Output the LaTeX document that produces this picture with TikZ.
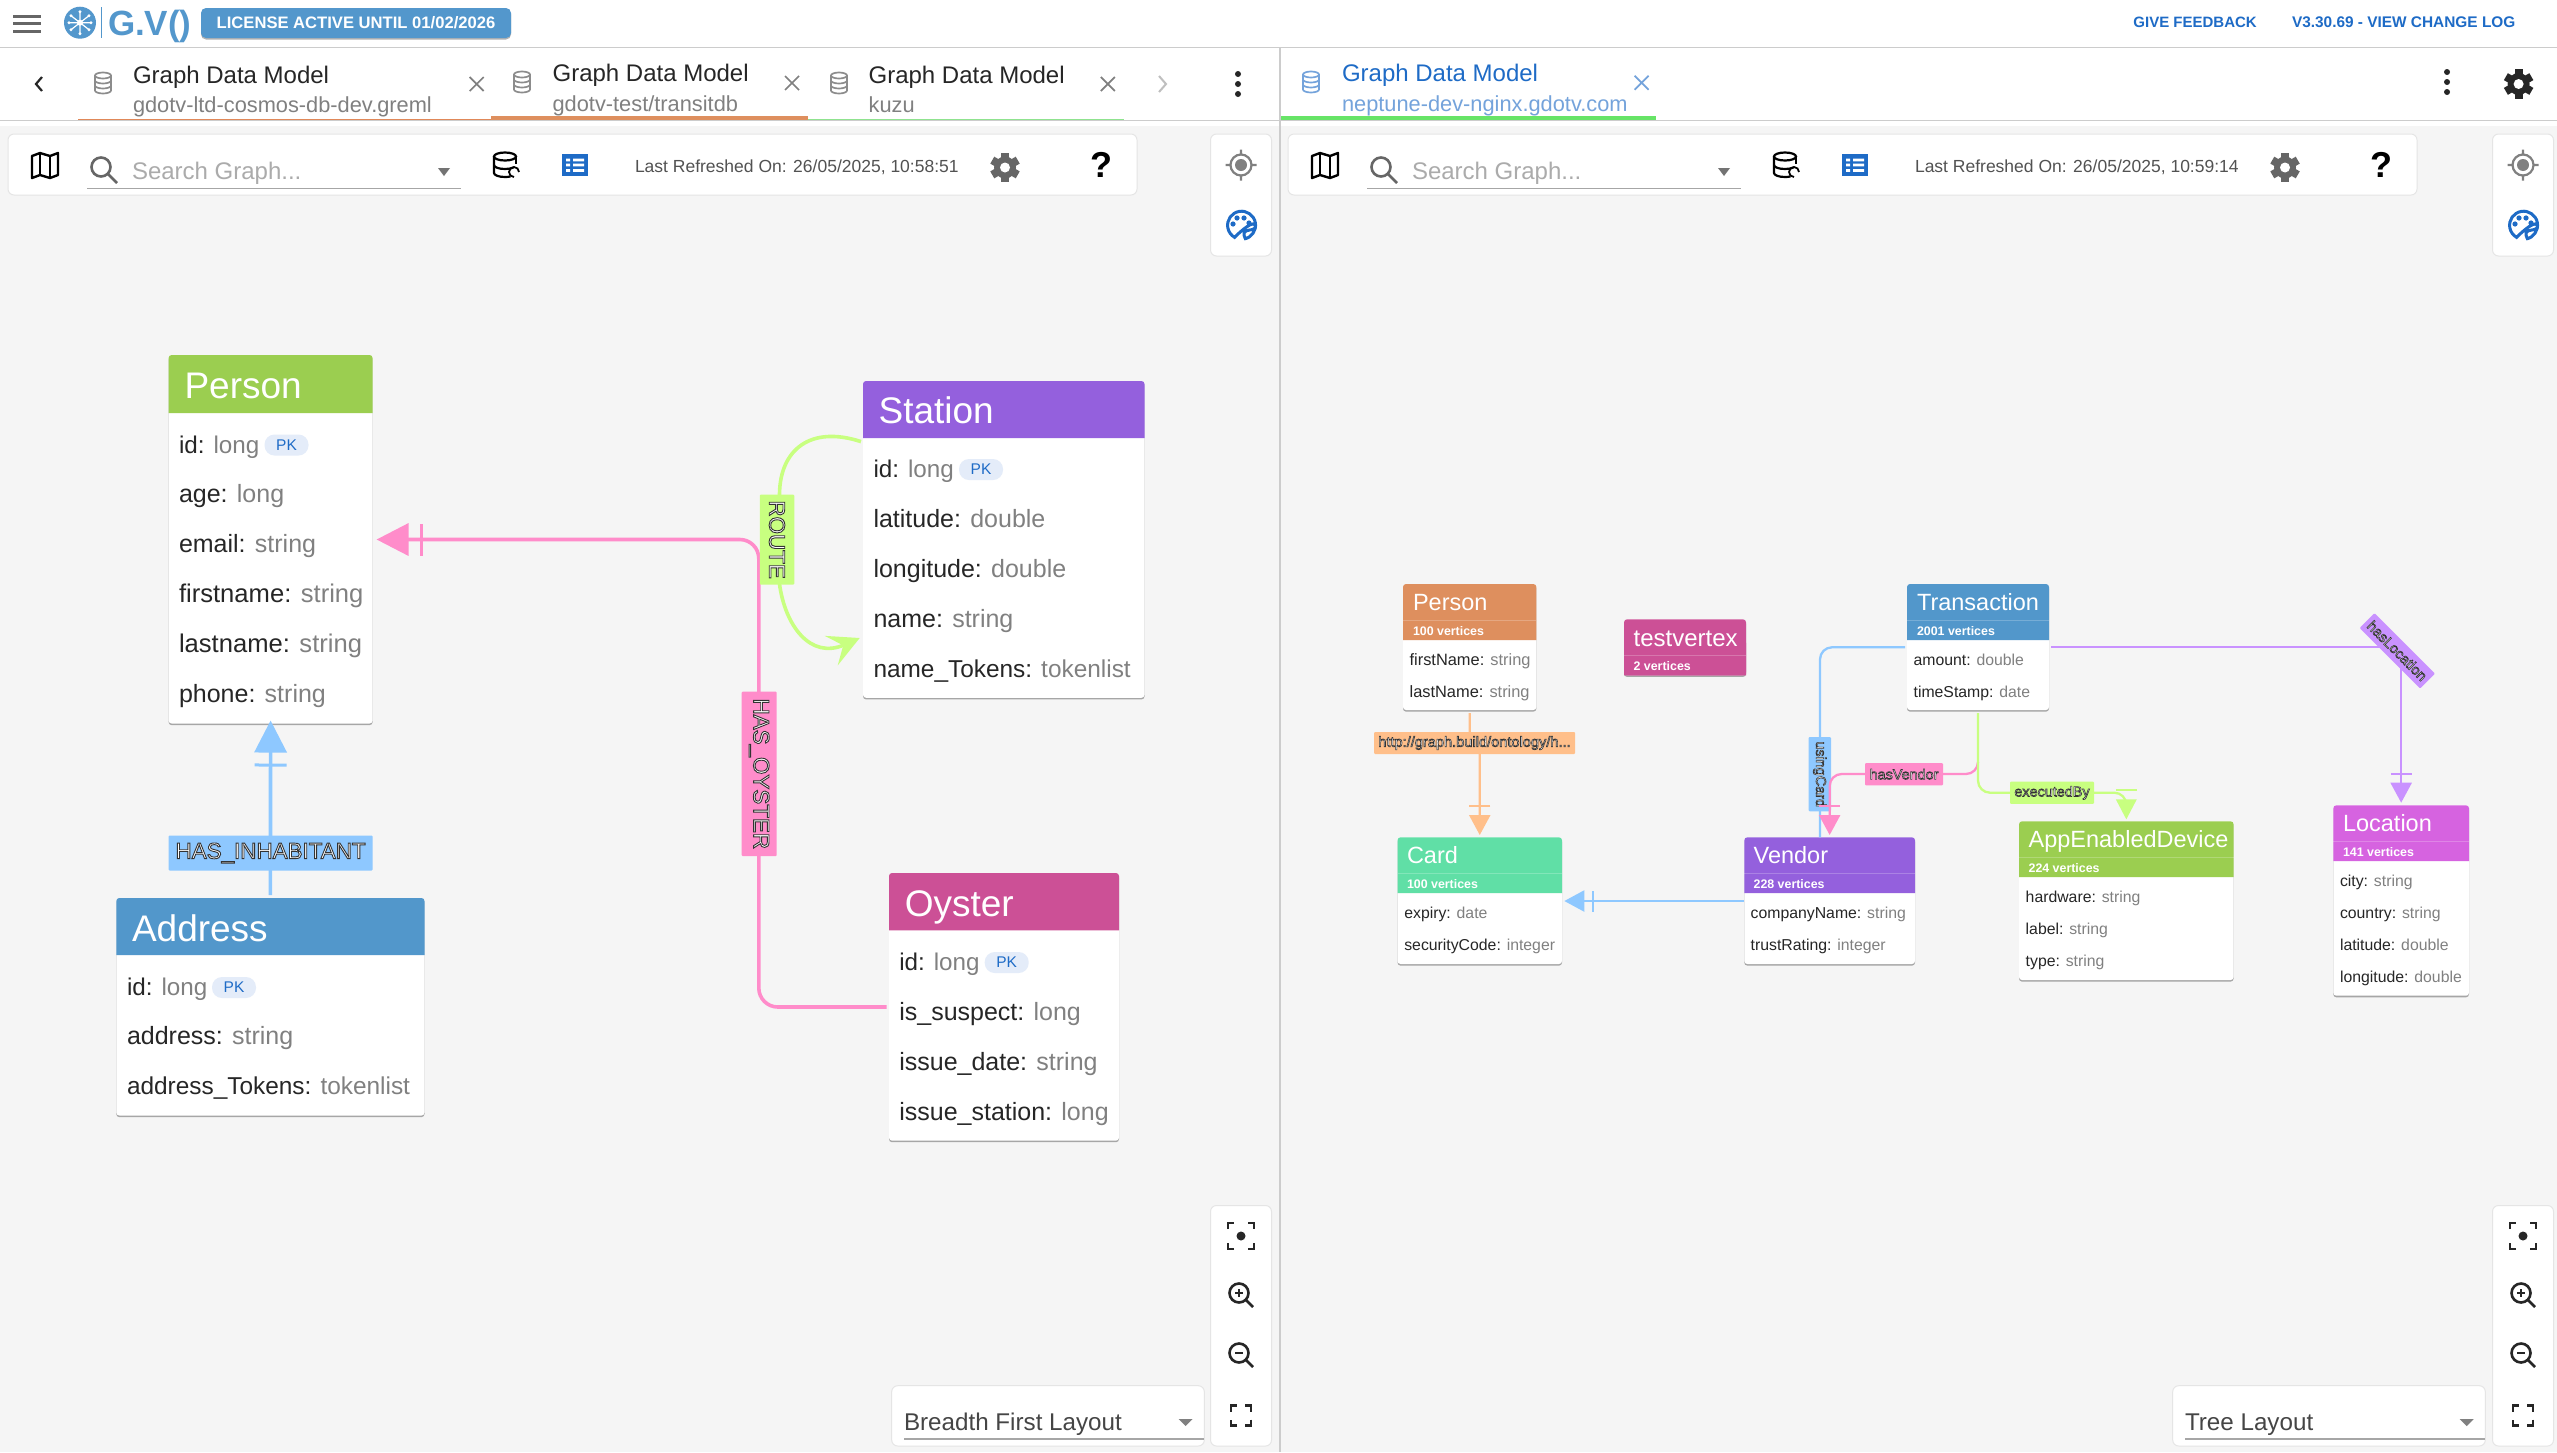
\documentclass[tikz,border=0pt]{standalone}
\usepackage{fontspec}
\setmainfont{Liberation Sans}
\usetikzlibrary{arrows.meta,calc}
\definecolor{bgpanel}{HTML}{F5F5F5}
\definecolor{rulegray}{HTML}{CCCCCC}
\definecolor{gdblue}{HTML}{1E6BC6}
\definecolor{gdlight}{HTML}{74A3DB}
\definecolor{logoblue}{HTML}{5397CC}
\definecolor{hgreen}{HTML}{9BCE50}
\definecolor{hblue}{HTML}{5297CB}
\definecolor{hpurple}{HTML}{9460DD}
\definecolor{hmagenta}{HTML}{CC5096}
\definecolor{horange}{HTML}{DE8F5E}
\definecolor{hteal}{HTML}{60DFA6}
\definecolor{hviolet}{HTML}{D663E0}
\definecolor{epink}{HTML}{FF8CCA}
\definecolor{eblue}{HTML}{8EC8FF}
\definecolor{egreen}{HTML}{C8FF80}
\definecolor{eorange}{HTML}{FFBF8A}
\definecolor{epurple}{HTML}{C992FF}
\definecolor{ftype}{HTML}{808080}
\definecolor{fname}{HTML}{262626}
\newcommand{\fsz}[1]{\fontsize{#1}{#1}\selectfont}
\newcommand{\outl}[2]{\color{white}\special{pdf:code q 2 Tr #1 w 0.2 0.2 0.2 RG}#2\special{pdf:code Q}}
\tikzset{
  x=1pt,y=-1pt,
  txt/.style={inner sep=0pt,outer sep=0pt},
  cardbody/.style={rectangle,fill=white,rounded corners=3pt,inner sep=0pt,outer sep=0pt},
  rowbig/.style={txt,anchor=base west,yshift=-8.5pt,font=\fsz{25},text=fname},
  rowsmall/.style={txt,anchor=base west,yshift=-5.7pt,font=\fsz{15.8},text=fname},
  wide/.style={font=\fsz{25.6}},
  idrow/.style={font=\fsz{24.2}},
  tok/.style={font=\fsz{24.4}},
  widesm/.style={font=\fsz{16.4}},
  titlebig/.style={txt,anchor=base west,font=\fsz{37},text=white},
  titlesmall/.style={txt,anchor=base west,font=\fsz{23.5},text=white},
  countsty/.style={txt,anchor=base west,font=\bfseries\fsz{12.4},text=white},
  pkpill/.style={rectangle,rounded corners=10pt,fill=blue!6!gdblue!12!white,inner sep=0pt,minimum width=44pt,minimum height=21pt,text=gdblue,font=\fsz{15.5}},
  edgelab/.style={rectangle,rounded corners=1pt,inner sep=0pt,outer sep=0pt,align=center},
  bigline/.style={line width=3.6pt},
  smallline/.style={line width=2.3pt},
  bigtip/.style={-{Bar[width=32pt,line width=3pt,sep=11pt]Triangle[width=32pt,length=32pt]}},
  smalltip/.style={-{Bar[width=21pt,line width=2pt,sep=8pt]Triangle[width=21pt,length=20pt]}},
  panelbox/.style={fill=white,draw=black!10,line width=1pt,rounded corners=6pt},
  tabtitle/.style={txt,anchor=west,yshift=-3pt,font=\fsz{24},text=black!85},
  tabsub/.style={txt,anchor=west,yshift=-1.5pt,font=\fsz{21.8},text=black!50},
}
\newcommand{\card}[7]{%
  \fill[black!35,rounded corners=3pt,yshift=-1.6pt] (#2,#4) rectangle (#3,#6);
  \node[cardbody,minimum width=#3pt-#2pt,minimum height=#6pt-#4pt] (#1) at ({(#2+#3)/2},{(#4+#6)/2}) {};
  \fill[#7] (#2,#5) [rounded corners=3pt] -- (#2,#4) -- (#3,#4) [sharp corners] -- (#3,#5) -- cycle;
}
\newcommand{\sepl}[3]{\draw[white,opacity=.22,line width=.8pt] (#1,#3) -- (#2,#3);}
\newcommand{\rowb}[6][]{\node[rowbig,#1] (#2) at (#3,#4) {#5: \textcolor{ftype}{#6}};}
\newcommand{\rows}[6][]{\node[rowsmall,#1] (#2) at (#3,#4) {#5: \textcolor{ftype}{#6}};}
\newcommand{\dbicon}[3]{\begin{scope}[shift={(#1,#2)},draw=#3,line width=1.7pt]
  \draw (0,-7.5) ellipse (8 and 3);
  \draw (-8,-7.5) -- (-8,7.5) arc[start angle=180,end angle=360,x radius=8,y radius=-3] -- (8,-7.5);
  \draw (-8,-2.5) arc[start angle=180,end angle=360,x radius=8,y radius=-3];
  \draw (-8,2.5) arc[start angle=180,end angle=360,x radius=8,y radius=-3];
\end{scope}}
\newcommand{\closex}[3]{\draw[#3,line width=1.7pt] (#1-7,#2-7) -- (#1+7,#2+7) (#1-7,#2+7) -- (#1+7,#2-7);}
\newcommand{\gearicon}[4]{\begin{scope}[shift={(#1,#2)}]
  \fill[#3] (0,0) circle[radius=11];
  \foreach \a in {0,60,120}{\fill[#3,rotate=\a] (-4,-14.7) rectangle (4,14.7);}
  \fill[#4] (0,0) circle[radius=5];
\end{scope}}
\newcommand{\threedots}[2]{\fill[black!85] (#1,#2-10) circle[radius=3] (#1,#2) circle[radius=3] (#1,#2+10) circle[radius=3];}
\newcommand{\brackets}[3]{\draw[black!85,line width=2.6pt] (#1-#3,#2-#3+6) -- (#1-#3,#2-#3) -- (#1-#3+6,#2-#3) (#1+#3-6,#2-#3) -- (#1+#3,#2-#3) -- (#1+#3,#2-#3+6) (#1+#3,#2+#3-6) -- (#1+#3,#2+#3) -- (#1+#3-6,#2+#3) (#1-#3+6,#2+#3) -- (#1-#3,#2+#3) -- (#1-#3,#2+#3-6);}
\newcommand{\toolbar}[3]{\begin{scope}[shift={(#2,0)}]
  \path[panelbox] (8,134) rectangle (1137,195);
  % map
  \draw[black,line width=2.4pt,line join=round] (32,156) -- (40,153) -- (50,156) -- (58,153) -- (58,175) -- (50,178) -- (40,175) -- (32,178) -- cycle;
  \draw[black,line width=2.4pt] (40,153) -- (40,175) (50,156) -- (50,178);
  % search
  \draw[black!60,line width=2.6pt] (101,167) circle[radius=9.5] (108,174) -- (117,183);
  \node[txt,anchor=west,yshift=-1.5pt,font=\fsz{24},text=black!33] (#1search) at (132,171.5) {Search Graph...};
  \draw[black!35,line width=1.3pt] (87,188.5) -- (461,188.5);
  \fill[black!55] (438,168) -- (450,168) -- (444,176) -- cycle;
  % database refresh
  \begin{scope}[draw=black,line width=2.2pt]
    \draw (505,156.5) ellipse (11 and 4);
    \draw (494,156.5) -- (494,173) arc[start angle=180,end angle=300,x radius=11,y radius=-4];
    \draw (516,156.5) -- (516,164);
    \draw (494,165) arc[start angle=180,end angle=320,x radius=11,y radius=-4];
    \draw[line width=1.8pt] (519,172) arc[start angle=0,end angle=-270,radius=5];
  \end{scope}
  \fill[gdblue] (562,154) rectangle (588,176);
  \foreach \yy in {160,165,170.5}{\fill[white] (566,\yy-1.4) rectangle (570,\yy+1.4) (573,\yy-1.4) rectangle (584,\yy+1.4);}
  \node[txt,anchor=west,yshift=-1pt,font=\fsz{17.5},text=black!68] (#1refresh) at (635,166.5) {Last Refreshed On: #3};
  \gearicon{1005}{167.5}{black!60}{white}
  \node[txt,anchor=center,font=\bfseries\fsz{36},text=black] (#1help) at (1101.5,165) {?};
\end{scope}}
\newcommand{\sidepanel}[2]{
  \path[panelbox] (#1-30.5,134) rectangle (#1+30.5,256);
  \begin{scope}[shift={(#1,165)}]
    \draw[black!50,line width=2.2pt] (0,0) circle[radius=10.5] (0,-15.5) -- (0,-10.5) (0,10.5) -- (0,15.5) (-15.5,0) -- (-10.5,0) (10.5,0) -- (15.5,0);
    \fill[black!50] (0,0) circle[radius=6];
  \end{scope}
  \begin{scope}[shift={(#1,225)}]
    \draw[gdblue,line width=3pt] (3,14) arc[start angle=80,end angle=-240,radius=14] .. controls (14,-8) and (16,0) .. (14,3) .. controls (12,6) and (4,4) .. (3,8) .. controls (2,11) and (6,14) .. (3,14);
    \fill[gdblue] (-8,-1) circle[radius=2.6] (-4,-7) circle[radius=2.6] (3,-7) circle[radius=2.6] (8,-2) circle[radius=2.6];
  \end{scope}
}
\newcommand{\lowpanel}[1]{%
  \path[panelbox] (#1-30.5,1205.5) rectangle (#1+30.5,1446);
  \brackets{#1}{1236}{13}
  \fill[black!85] (#1,1236) circle[radius=4.5];
  \draw[black!85,line width=2.6pt] (#1-2,1293) circle[radius=9.5] (#1+5,1300) -- (#1+12,1307);
  \draw[black!85,line width=1.4pt] (#1-6,1293) -- (#1+2,1293) (#1-2,1289) -- (#1-2,1297);
  \draw[black!85,line width=2.6pt] (#1-2,1353) circle[radius=9.5] (#1+5,1360) -- (#1+12,1367);
  \draw[black!85,line width=1.4pt] (#1-6,1353) -- (#1+2,1353);
  \brackets{#1}{1415.5}{10}
}
\newcommand{\layoutbox}[4]{
  \path[panelbox] (#1,1385.7) rectangle (#1+312.6,1446);
  \node[txt,anchor=base west,font=\fsz{24.2},text=black!73] (#4) at (#1+12.3,1430) {#3};
  \draw[black!35,line width=1.3pt] (#1+12.3,1439) -- (#1+312,1439);
  \fill[black!50] (#2-7,1419) -- (#2+7,1419) -- (#2,1426) -- cycle;
}
\begin{document}
\begin{tikzpicture}
\useasboundingbox (0,0) rectangle (2557,1452);
\fill[white] (0,0) rectangle (2557,1452);
\fill[bgpanel] (0,126) rectangle (2557,1452);
\draw[rulegray,line width=1.5pt] (0,47.5) -- (2557,47.5);
\draw[rulegray,line width=1.5pt] (0,120.3) -- (2557,120.3);
\draw[rulegray,line width=1.5pt] (1280,47.5) -- (1280,1452);

% ---- top bar
\draw[black!60,line width=3pt] (13,16) -- (41,16) (13,23.5) -- (41,23.5) (13,31) -- (41,31);
\begin{scope}[shift={(80,22.7)}]
  \fill[logoblue] (0,0) circle[radius=16];
  \draw[white,line width=1.2pt] (-9,-7) -- (9,7) (9,-7) -- (-9,7) (0,-11) -- (0,11) (-11,0) -- (11,0);
  \fill[white] (0,0) circle[radius=3] (-9,-7) circle[radius=1.7] (9,7) circle[radius=1.7] (9,-7) circle[radius=1.7] (-9,7) circle[radius=1.7] (0,-11) circle[radius=1.7] (0,11) circle[radius=1.7] (-11,0) circle[radius=1.7] (11,0) circle[radius=1.7];
\end{scope}
\draw[logoblue,line width=.8pt] (101,7) -- (101,38);
\node[txt,anchor=base west,font=\bfseries\fsz{35},text=logoblue] (gvlogo) at (108,35) {G.V()};
\fill[black!30,rounded corners=5pt] (201,9.5) rectangle (511,39.5);
\node[rectangle,fill=logoblue,rounded corners=5pt,minimum width=310pt,minimum height=30pt,inner sep=0pt,text=white,font=\bfseries\fsz{16.6}] (license) at (356,23) {LICENSE ACTIVE UNTIL 01/02/2026};
\node[txt,anchor=west,font=\bfseries\fsz{15},text=gdblue] (feedback) at (2133.4,22.7) {GIVE FEEDBACK};
\node[txt,anchor=west,font=\bfseries\fsz{15.4},text=gdblue] (version) at (2292,22.7) {V3.30.69 - VIEW CHANGE LOG};

% ---- tabs, left
\draw[black!85,line width=2.2pt] (42,77) -- (36,84) -- (42,91);
\dbicon{103}{83}{black!45}
\node[tabtitle] (t1) at (133,74) {Graph Data Model};
\node[tabsub] (s1) at (133,105) {gdotv-ltd-cosmos-db-dev.greml};
\closex{476.7}{84}{black!50}
\dbicon{522}{82}{black!45}
\node[tabtitle] (t2) at (552.6,72.7) {Graph Data Model};
\node[tabsub] (s2) at (552.6,104) {gdotv-test/transitdb};
\closex{792}{83}{black!50}
\dbicon{839}{83}{black!45}
\node[tabtitle] (t3) at (868.6,74) {Graph Data Model};
\node[tabsub,yshift=1.5pt] (s3) at (868.6,105) {kuzu};
\closex{1107.8}{84}{black!50}
\draw[black!25,line width=2pt] (1159,76) -- (1166,84) -- (1159,92);
\threedots{1238}{84}
\draw[horange!95!red,line width=1.6pt] (78,119.3) -- (490.6,119.3);
\fill[horange] (490.6,116) rectangle (808,120);
\draw[green!60!gray!55!white,line width=1.6pt] (808,119.3) -- (1124,119.3);

% ---- tabs, right
\dbicon{1311}{82}{gdlight}
\node[tabtitle,text=gdblue] (t4) at (1342,72.7) {Graph Data Model};
\node[tabsub,text=gdlight] (s4) at (1342,104) {neptune-dev-nginx.gdotv.com};
\closex{1641.6}{82.7}{gdlight}
\fill[green!70!gray!70!white] (1280.7,116) rectangle (1656,120);
\threedots{2447}{82}
\gearicon{2518.6}{84}{black!85}{white}

% ---- toolbars and side panels
\toolbar{l}{0}{26/05/2025, 10:58:51}
\toolbar{r}{1280}{26/05/2025, 10:59:14}
\sidepanel{1241}{l}
\sidepanel{2523}{r}
\lowpanel{1241}
\lowpanel{2523}
\layoutbox{891.7}{1185.7}{Breadth First Layout}{layoutl}
\layoutbox{2172.7}{2466.7}{Tree Layout}{layoutr}

% ---- left graph cards
\card{lPerson}{168.6}{372.6}{355}{413}{723.5}{hgreen}
\node[titlebig] (lPersonT) at (184.5,398.7) {Person};
\rowb[idrow]{lp1}{179}{444.6}{id}{long}
\node[pkpill] (lpk1) at (286.5,445) {PK};
\rowb{lp2}{179}{494}{age}{long}
\rowb{lp3}{179}{544}{email}{string}
\rowb[wide]{lp4}{179}{593.6}{firstname}{string}
\rowb[wide]{lp5}{179}{643.6}{lastname}{string}
\rowb{lp6}{179}{693.6}{phone}{string}

\card{lAddress}{116.3}{424.5}{898}{955}{1115.5}{hblue}
\node[titlebig] (lAddressT) at (132,941) {Address};
\rowb[idrow]{la1}{127}{987}{id}{long}
\node[pkpill] (lpk2) at (234,987.5) {PK};
\rowb{la2}{127}{1036.4}{address}{string}
\rowb[tok]{la3}{127}{1086.4}{address\_Tokens}{tokenlist}

\card{lStation}{863}{1144.5}{381}{438}{697.8}{hpurple}
\node[titlebig] (lStationT) at (878.6,423) {Station};
\rowb[idrow]{ls1}{873.5}{469}{id}{long}
\node[pkpill] (lpk3) at (981,469.5) {PK};
\rowb{ls2}{873.5}{518.7}{latitude}{double}
\rowb{ls3}{873.5}{568.7}{longitude}{double}
\rowb{ls4}{873.5}{619}{name}{string}
\rowb[tok]{ls5}{873.5}{668.7}{name\_Tokens}{tokenlist}

\card{lOyster}{889}{1119}{873}{930.4}{1140.6}{hmagenta}
\node[titlebig] (lOysterT) at (904.8,916) {Oyster};
\rowb[idrow]{lo1}{899.3}{962}{id}{long}
\node[pkpill] (lpk4) at (1006.7,962.5) {PK};
\rowb{lo2}{899.3}{1012}{is\_suspect}{long}
\rowb{lo3}{899.3}{1062}{issue\_date}{string}
\rowb{lo4}{899.3}{1111.5}{issue\_station}{long}

% ---- left graph edges
\draw[eblue,bigline,bigtip,shorten <=3pt] (lAddress.north) -- ([yshift=3pt]lPerson.south);
\node[edgelab,fill=eblue,minimum width=204pt,minimum height=35pt,font=\fsz{22.4}] (labInh) at (270.6,853) {\outl{.9}{HAS\_INHABITANT}};
\draw[epink,bigline,bigtip,rounded corners=19pt] ([xshift=-2.5pt]lOyster.west |- 0,1007) -- (758.8,1007) -- (758.8,539.5) -- ([xshift=4pt]lPerson.east |- 0,539.5);
\node[edgelab,fill=epink,rotate=-90,minimum width=164.5pt,minimum height=35pt,font=\fsz{22.4}] (labOy) at (759.2,773.8) {\outl{.9}{HAS\_OYSTER}};
\draw[egreen,bigline,-{Stealth[length=31pt,width=32pt,inset=13pt]}] ([xshift=-2pt]lStation.west |- 0,441.6) .. controls (810,425) and (780,450) .. (779.5,494) -- (779.5,584) .. controls (785,625) and (810,660) .. (859.7,638);
\node[edgelab,fill=egreen,rotate=-90,minimum width=90pt,minimum height=34.5pt,font=\fsz{22.4}] (labRoute) at (777,539.6) {\outl{.9}{ROUTE}};

% ---- right graph cards
\card{rPerson}{1403}{1536.4}{584}{640}{710}{horange}
\sepl{1403}{1536.4}{620.3}
\node[titlesmall] (rPersonT) at (1413,610.7) {Person};
\node[countsty] (rPersonC) at (1413,635) {100 vertices};
\rows[widesm]{rp1}{1409.6}{659.3}{firstName}{string}
\rows[widesm]{rp2}{1409.6}{691.3}{lastName}{string}

\card{rTest}{1624}{1746}{619.3}{675.3}{675.3}{hmagenta}
\fill[hmagenta,rounded corners=3pt] (1624,640) rectangle (1746,675.3);
\sepl{1624}{1746}{655}
\node[txt,anchor=base west,font=\fsz{24},text=white] (rTestT) at (1633.6,646) {testvertex};
\node[countsty] (rTestC) at (1633.6,670) {2 vertices};

\card{rTrans}{1907}{2049}{584}{640}{710}{hblue}
\sepl{1907}{2049}{620.3}
\node[titlesmall] (rTransT) at (1917,610.7) {Transaction};
\node[countsty] (rTransC) at (1917,635) {2001 vertices};
\rows{rt1}{1913.6}{659.3}{amount}{double}
\rows{rt2}{1913.6}{691.3}{timeStamp}{date}

\card{rCard}{1397.5}{1562}{837.3}{893}{964}{hteal}
\sepl{1397.5}{1562}{873}
\node[titlesmall] (rCardT) at (1407,863) {Card};
\node[countsty] (rCardC) at (1407,888) {100 vertices};
\rows{rc1}{1404.3}{912.7}{expiry}{date}
\rows{rc2}{1404.3}{944.7}{securityCode}{integer}

\card{rVendor}{1744.3}{1915}{837.3}{893}{964}{hpurple}
\sepl{1744.3}{1915}{873}
\node[titlesmall] (rVendorT) at (1753.6,863) {Vendor};
\node[countsty] (rVendorC) at (1753.6,888) {228 vertices};
\rows{rv1}{1750.7}{912.7}{companyName}{string}
\rows{rv2}{1750.7}{944.7}{trustRating}{integer}

\card{rApp}{2019}{2233.6}{821.3}{877}{980}{hgreen}
\sepl{2019}{2233.6}{857.3}
\node[titlesmall] (rAppT) at (2028.6,847.3) {AppEnabledDevice};
\node[countsty] (rAppC) at (2028.6,872.3) {224 vertices};
\rows{ra1}{2025.7}{896.7}{hardware}{string}
\rows{ra2}{2025.7}{928.7}{label}{string}
\rows{ra3}{2025.7}{960.7}{type}{string}

\card{rLoc}{2333.3}{2469}{805.3}{861}{995.7}{hviolet}
\sepl{2333.3}{2469}{841.7}
\node[titlesmall] (rLocT) at (2343,831.7) {Location};
\node[countsty] (rLocC) at (2343,856) {141 vertices};
\rows{rl1}{2340}{880.7}{city}{string}
\rows{rl2}{2340}{912.7}{country}{string}
\rows{rl3}{2340}{944.7}{latitude}{double}
\rows{rl4}{2340}{976.7}{longitude}{double}

% ---- right graph edges
\draw[eorange,smallline,smalltip,shorten <=3pt] (rPerson.south) -- (1469.7,735) -- (1479.75,750) -- ([yshift=2.3pt]rCard.north);
\node[edgelab,fill=eorange,minimum width=201pt,minimum height=22pt,font=\fsz{14.6}] (labHttp) at (1474.5,743) {\outl{.6}{http://graph.build/ontology/h...}};
\draw[eblue,smallline,smalltip] (rVendor.west |- 0,901) -- ([xshift=2.3pt]rCard.east |- 0,901);
\draw[eblue,smallline,rounded corners=12pt] ([xshift=-2pt]rTrans.west |- 0,647.3) -- (1820,647.3) -- (rVendor.north -| 1820,0);
\node[edgelab,fill=eblue,rotate=-90,minimum width=74.3pt,minimum height=22.4pt,font=\fsz{14.4}] (labUsing) at (1819.8,774.2) {\outl{.6}{usingCard}};
\draw[epink,smallline,smalltip,rounded corners=12pt] (rTrans.south |- 0,762) -- (rTrans.south |- 0,774) -- (rVendor.north |- 0,774) -- ([yshift=2.3pt]rVendor.north);
\node[edgelab,fill=epink,minimum width=78pt,minimum height=22.3pt,font=\fsz{14.4}] (labVendor) at (1904,774.2) {\outl{.6}{hasVendor}};
\draw[egreen,smallline,rounded corners=12pt,shorten <=3pt] (rTrans.south) -- (rTrans.south |- 0,792.7) -- (rApp.north |- 0,792.7) -- (rApp.north |- 0,802);
\draw[egreen,line width=2pt] ([xshift=-10.5pt,yshift=31pt]rApp.north) -- ([xshift=10.5pt,yshift=31pt]rApp.north);
\fill[egreen] ([xshift=-10.5pt,yshift=22pt]rApp.north) -- ([xshift=10.5pt,yshift=22pt]rApp.north) -- ([yshift=2pt]rApp.north) -- cycle;
\node[edgelab,fill=egreen,minimum width=84pt,minimum height=22.3pt,font=\fsz{14.4}] (labExec) at (2052,792.8) {\outl{.6}{executedBy}};
\draw[epurple,smallline,smalltip] ([xshift=2pt]rTrans.east |- 0,647.3) -- (rLoc.north |- 0,647.3) -- ([yshift=2.6pt]rLoc.north);
\node[edgelab,fill=epurple,rotate=-45,minimum width=85.5pt,minimum height=21pt,font=\fsz{14.4}] (labLoc) at (2397.3,650.8) {\outl{.6}{hasLocation}};
\end{tikzpicture}
\end{document}
